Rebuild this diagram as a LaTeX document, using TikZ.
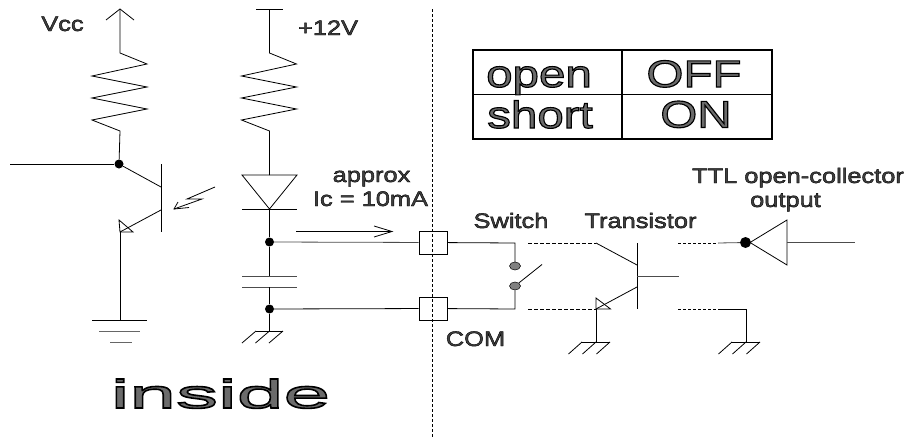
\documentclass[tikz,border=0pt]{standalone}
\usepackage{fontspec}
\usetikzlibrary{shapes.geometric}
\newfontfamily\lblfont[FakeStretch=1.21,FakeBold=2]{Liberation Sans}
\newfontfamily\tabfont[FakeStretch=1.25,FakeBold=3]{Liberation Sans}
\newfontfamily\insfont[FakeStretch=2.1,FakeBold=4]{Liberation Sans}
\newcommand{\outl}[1]{\special{pdf:code 0 G 0.42 g}#1\special{pdf:code 0 G 0 g}}
\newcommand{\outd}[1]{\special{pdf:code 0 G 0.25 g}#1\special{pdf:code 0 G 0 g}}
\tikzset{
  wire/.style={line width=0.8pt,black},
  dot/.style={circle,fill=black,inner sep=0pt,minimum width=9pt,minimum height=8pt},
  swdot/.style={ellipse,draw=black,line width=0.5pt,fill=black!50,inner sep=0pt,minimum width=11pt,minimum height=8pt},
  termbox/.style={draw,line width=0.8pt,fill=none,inner sep=0pt,minimum width=28pt,minimum height=23pt},
  lbl/.style={inner sep=0pt,anchor=base,font={\lblfont\fontsize{21pt}{24pt}\selectfont}},
  tab/.style={inner sep=0pt,anchor=base,font={\tabfont\fontsize{38pt}{40pt}\selectfont}},
  ins/.style={inner sep=0pt,anchor=base,font={\insfont\fontsize{40pt}{44pt}\selectfont}}}

\begin{document}
\begin{tikzpicture}[x=1pt,y=-1pt]
\useasboundingbox (0,0) rectangle (911,439);
\fill [white] (0,0) rectangle (911,439);
% boundary
\coordinate (bordertop) at (432.5,9);
\coordinate (borderbot) at (432.5,439);
\draw [wire,dash pattern=on 3pt off 2pt] (bordertop) -- (borderbot);
% input side, phototransistor
\coordinate (vcc) at (120,9);
\coordinate (vccres) at (120,53);
\node [dot] (base) at (119,164) {};
\coordinate (basein) at (10,164);
\coordinate (emit) at (120,232);
\coordinate (gndin) at (120,320);
\draw [wire] (vcc) -- (vccres) -- ++(27,11) -- ++(-55,12) -- ++(55,11) -- ++(-55,11) -- ++(55,11) -- ++(-55,11) -- ++(28,11) -- (base);
\draw [wire] (vcc) ++(-14,11) -- (vcc) -- ++(14,11);
\draw [wire] (basein) -- (base);
\draw [wire] (base) -- (161,187);
\draw [wire] (161,164) -- (161,232);
\draw [wire] (161,210) -- (emit);
\draw [wire] (emit) ++(-1,-12) -- ++(14,12) -- (emit) -- cycle;
\draw [wire] (emit) -- (gndin);
\draw [wire] (gndin) ++(-28,0) -- ++(55,0);
\draw [wire,black!60] (99,331) -- (140,331);
\draw [wire,black!60] (110,342) -- (132,342);
% light
\coordinate (lightfrom) at (215,187);
\coordinate (lightto) at (174,209);
\draw [wire] (lightfrom) -- (187,199) -- (202,199) -- (lightto);
\draw [wire] (178,202) -- (lightto) -- (189,207.5);
% led and capacitor
\coordinate (ledtop) at (269.5,9);
\coordinate (ledres) at (269.5,53);
\coordinate (ledin) at (269.5,175);
\coordinate (ledout) at (269.5,209);
\node [dot] (plus) at (269.5,242) {};
\node [dot] (minus) at (269.5,309) {};
\coordinate (captop) at (269.5,276);
\coordinate (capbot) at (269.5,287);
\coordinate (hatchl) at (269.5,331);
\draw [wire] (ledtop) ++(-13.5,0) -- ++(27,0);
\draw [wire] (ledtop) -- (ledres) -- ++(27,11) -- ++(-55,12) -- ++(55,11) -- ++(-55,11) -- ++(55,11) -- ++(-55,11) -- ++(28,11) -- (ledin);
\draw [wire] (ledin) ++(-27.5,0) -- ++(55,0) -- (ledout) -- cycle;
\draw [wire] (ledout) ++(-27.5,0) -- ++(55,0);
\draw [wire] (ledout) -- (plus) -- (captop);
\draw [wire,black!70] (captop) ++(-27.5,0) -- ++(55,0);
\draw [wire,black!70] (capbot) ++(-27.5,0) -- ++(55,0);
\draw [wire] (capbot) -- (minus) -- (hatchl);
\draw [wire] (hatchl) ++(-13.5,0) -- ++(27,0);
\draw [wire] (hatchl) ++(-13.5,0) -- ++(-14,12);
\draw [wire] (hatchl) -- ++(-14,12);
\draw [wire] (hatchl) ++(13.5,0) -- ++(-14,12);
% terminals
\node [termbox] (termup) at (433,242.5) {};
\node [termbox] (termdn) at (433,308.5) {};
\draw [wire,black!70] (plus) -- (termup);
\draw [wire] (minus) -- (termdn);
% current arrow
\coordinate (arrfrom) at (296,231.5);
\coordinate (arrto) at (392,231.5);
\draw [wire] (arrfrom) -- (arrto);
\draw [wire] (374,226) -- (arrto) -- (374,237);
% switch
\node [swdot] (swup) at (515,266) {};
\node [swdot] (swdn) at (515,286) {};
\coordinate (swupc) at (515,243);
\coordinate (swdnc) at (515,309);
\coordinate (blade) at (542,264.5);
\draw [wire] (termup) -- (swupc) -- (swup);
\draw [wire] (termdn) -- (swdnc) -- (swdn);
\draw [wire] (swdn) -- (blade);
% transistor
\coordinate (tup) at (528,243);
\coordinate (tupk) at (596,243);
\coordinate (tdn) at (528,309);
\coordinate (tdnk) at (596,309);
\coordinate (hatcht) at (596,342);
\draw [wire,dash pattern=on 4pt off 2pt] (tup) -- (tupk);
\draw [wire,dash pattern=on 4pt off 2pt] (tdn) -- (tdnk);
\draw [wire] (tupk) -- (637,265);
\draw [wire] (637,243) -- (637,309);
\draw [wire,black!70] (637,276) -- (679,276);
\draw [wire] (637,287) -- (tdnk);
\draw [wire] (tdnk) ++(0,-11) -- ++(14.5,11) -- (tdnk) -- cycle;
\draw [wire] (tdnk) -- (hatcht);
\draw [wire] (hatcht) ++(-14,0) -- ++(28,0);
\draw [wire] (hatcht) ++(-14,0) -- ++(-13.5,12);
\draw [wire] (hatcht) -- ++(-13.5,12);
\draw [wire] (hatcht) ++(14,0) -- ++(-13.5,12);
% ttl output
\coordinate (ttlup) at (678,243);
\coordinate (ttlupk) at (718,243);
\coordinate (ttldn) at (678,309);
\coordinate (ttldnk) at (718,309);
\coordinate (ttlc) at (746,309);
\coordinate (hatchr) at (746,342);
\coordinate (ttltip) at (750,242.5);
\coordinate (ttlback) at (787,242.5);
\coordinate (ttlout) at (855,242.5);
\node [dot,minimum width=11pt,minimum height=9pt] (ttldot) at (745.5,242.5) {};
\draw [wire,dash pattern=on 3pt off 2pt] (ttlup) -- (ttlupk);
\draw [wire,dash pattern=on 3pt off 2pt] (ttldn) -- (ttldnk);
\draw [wire,black!70] (ttlupk) -- (ttldot);
\draw [wire] (ttltip) -- (787,220) -- (787,265) -- cycle;
\draw [wire,black!70] (ttlback) -- (ttlout);
\draw [wire] (ttldnk) -- (ttlc) -- (hatchr);
\draw [wire] (hatchr) ++(-14,0) -- ++(28,0);
\draw [wire] (hatchr) ++(-14,0) -- ++(-13.5,12);
\draw [wire] (hatchr) -- ++(-13.5,12);
\draw [wire] (hatchr) ++(14,0) -- ++(-13.5,12);
% table
\draw [line width=2pt] (472.5,50) rectangle (772,139);
\draw [line width=1.6pt] (472.5,94.5) -- (772,94.5);
\draw [line width=2pt] (622,50) -- (622,139);
\node [tab] (open) at (539,87) {\outl{open}};
\node [tab] (short) at (540,128) {\outl{short}};
\node [tab] (off) at (694,87) {\outl{OFF}};
\node [tab] (on) at (696,127.5) {\outl{ON}};
% labels
\node [lbl] (vcclbl) at (62.5,31) {\outd{Vcc}};
\node [lbl] (twelve) at (328,35) {\outd{+12V}};
\node [lbl] (approx) at (371.5,182) {\outd{approx}};
\node [lbl] (ic) at (370.5,206) {\outd{Ic = 10mA}};
\node [lbl] (swlbl) at (511,228) {\outd{Switch}};
\node [lbl] (trlbl) at (640.5,228) {\outd{Transistor}};
\node [lbl] (com) at (475.5,346) {\outd{COM}};
\node [lbl] (ttllbl) at (798,183) {\outd{TTL open-collector}};
\node [lbl] (outlbl) at (785.5,207) {\outd{output}};
\node [ins] (inside) at (220.5,408) {\outl{inside}};
\end{tikzpicture}
\end{document}
